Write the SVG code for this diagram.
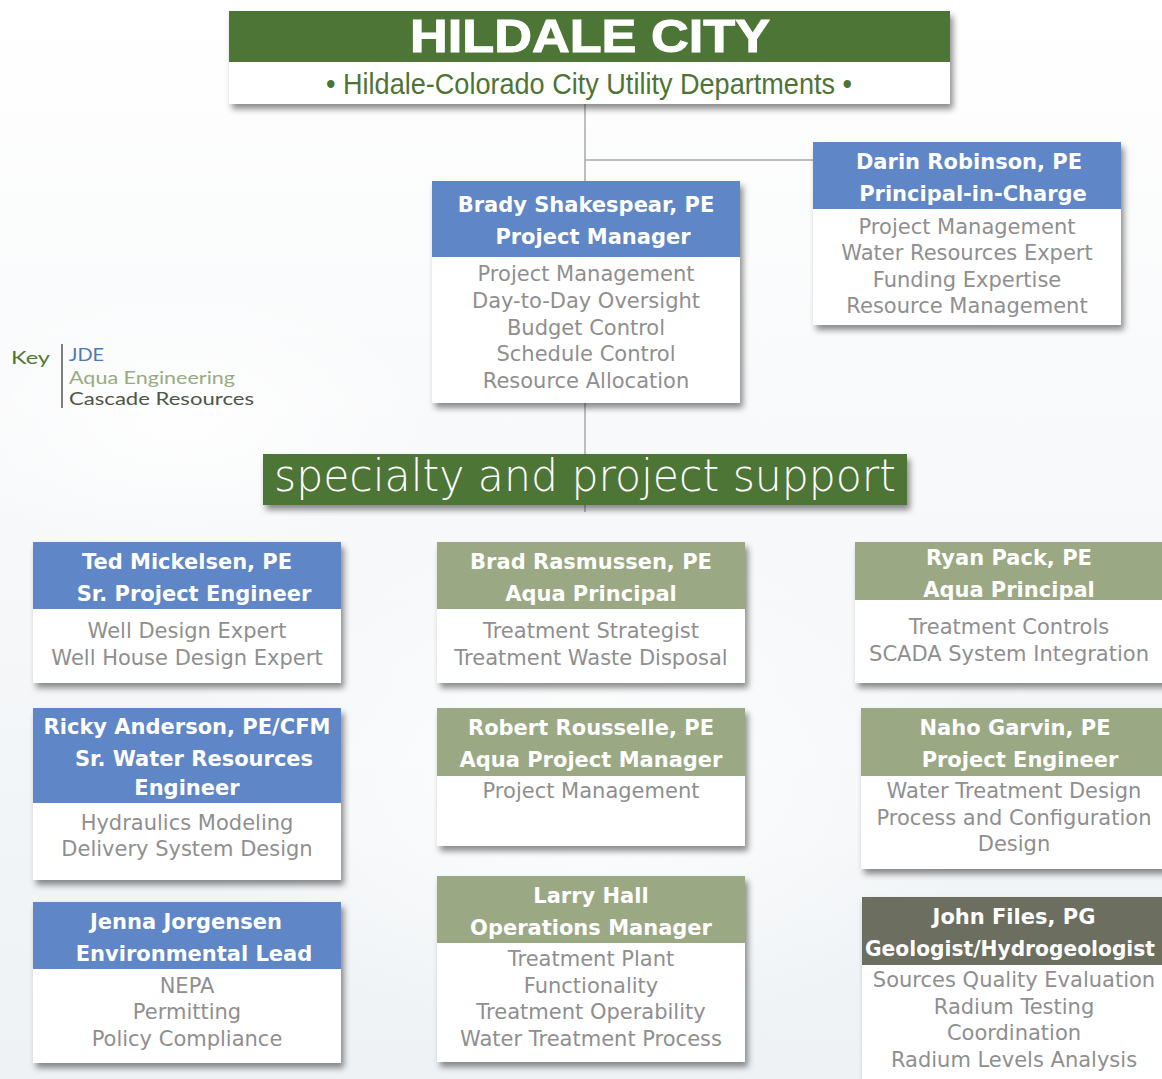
<svg xmlns="http://www.w3.org/2000/svg" width="1162" height="1079" viewBox="0 0 1162 1079">
  <defs>
    <linearGradient id="bg" x1="0" y1="0" x2="0" y2="1">
      <stop offset="0" stop-color="#ffffff"/>
      <stop offset="0.35" stop-color="#f9fafb"/>
      <stop offset="1" stop-color="#eef2f5"/>
    </linearGradient>
    <radialGradient id="glow" cx="0.5" cy="0.5" r="0.5">
      <stop offset="0" stop-color="#ffffff" stop-opacity="0.9"/>
      <stop offset="1" stop-color="#ffffff" stop-opacity="0"/>
    </radialGradient>
    <filter id="shadow" x="-10%" y="-10%" width="125%" height="130%">
      <feDropShadow dx="3" dy="5" stdDeviation="3" flood-color="#000" flood-opacity="0.45"/>
    </filter>
    <style>
      .box { fill: #ffffff; }
      .jde { fill: #5f86c6; }
      .aqua { fill: #9aa884; }
      .casc { fill: #6c6e5f; }
      .band { fill: #4e7434; }
      .hd { font-family: "DejaVu Sans", "Liberation Sans", sans-serif; font-weight: bold; font-size: 21px; fill: #ffffff; text-anchor: middle; }
      .bd { font-family: "DejaVu Sans", "Liberation Sans", sans-serif; font-size: 21px; fill: #8f8f8f; text-anchor: middle; }
      .link { stroke: #a9a9a9; stroke-width: 1.5; fill: none; }
      .key { font-family: "Lato", "Open Sans", sans-serif; font-size: 17.5px; }
    </style>
  </defs>

  <!-- page background -->
  <rect width="1162" height="1079" fill="url(#bg)"/>
  <ellipse cx="585" cy="780" rx="420" ry="260" fill="url(#glow)"/>
  <ellipse cx="180" cy="420" rx="260" ry="140" fill="url(#glow)"/>

  <!-- connectors -->
  <g id="connectors">
    <line class="link" x1="585" y1="104" x2="585" y2="512"/>
    <line class="link" x1="585" y1="160" x2="813" y2="160"/>
  </g>

  <!-- title block -->
  <g id="hildale-city" filter="url(#shadow)">
    <rect class="box" x="229" y="11" width="721" height="93"/>
    <rect class="band" x="229" y="11" width="721" height="51"/>
  </g>
  <g id="hildale-city-text">
    <text x="590" y="52" font-family="Liberation Sans, Arial, sans-serif" font-weight="bold" font-size="46" fill="#ffffff" stroke="#ffffff" stroke-width="1" text-anchor="middle" textLength="360" lengthAdjust="spacingAndGlyphs">HILDALE CITY</text>
    <text x="589" y="94" font-family="Liberation Sans, Arial, sans-serif" font-size="29" fill="#4e7434" text-anchor="middle" textLength="526" lengthAdjust="spacingAndGlyphs">• Hildale-Colorado City Utility Departments •</text>
  </g>

  <!-- key -->
  <g id="key">
    <text class="key" x="11" y="364" fill="#4e7a35" font-size="22" textLength="39" lengthAdjust="spacingAndGlyphs">Key</text>
    <line x1="62" y1="344" x2="62" y2="408" stroke="#555" stroke-width="1.5"/>
    <text class="key" x="69" y="361" fill="#4a7ab5" textLength="35" lengthAdjust="spacingAndGlyphs">JDE</text>
    <text class="key" x="69" y="384" fill="#9aaa80" textLength="166" lengthAdjust="spacingAndGlyphs">Aqua Engineering</text>
    <text class="key" x="69" y="405" fill="#4f5547" textLength="185" lengthAdjust="spacingAndGlyphs">Cascade Resources</text>
  </g>

  <!-- Darin Robinson -->
  <g id="darin-robinson">
    <g filter="url(#shadow)"><rect class="box" x="813" y="142" width="308" height="183"/></g>
    <rect class="jde" x="813" y="142" width="308" height="67"/>
    <text class="hd" x="969" y="169">Darin Robinson, PE</text>
    <text class="hd" x="973" y="201">Principal-in-Charge</text>
    <text class="bd" x="967" y="234">Project Management</text>
    <text class="bd" x="967" y="260">Water Resources Expert</text>
    <text class="bd" x="967" y="287">Funding Expertise</text>
    <text class="bd" x="967" y="313">Resource Management</text>
  </g>

  <!-- Brady Shakespear -->
  <g id="brady-shakespear">
    <g filter="url(#shadow)"><rect class="box" x="432" y="181" width="308" height="222"/></g>
    <rect class="jde" x="432" y="181" width="308" height="76"/>
    <text class="hd" x="586" y="212">Brady Shakespear, PE</text>
    <text class="hd" x="593" y="244">Project Manager</text>
    <text class="bd" x="586" y="281">Project Management</text>
    <text class="bd" x="586" y="308">Day-to-Day Oversight</text>
    <text class="bd" x="586" y="335">Budget Control</text>
    <text class="bd" x="586" y="361">Schedule Control</text>
    <text class="bd" x="586" y="388">Resource Allocation</text>
  </g>

  <!-- section band -->
  <g id="specialty-support">
    <g filter="url(#shadow)"><rect class="band" x="263" y="454" width="644" height="51"/></g>
    <text x="585" y="491" font-family="DejaVu Sans, sans-serif" font-weight="200" font-size="44" fill="#ffffff" text-anchor="middle" textLength="622" lengthAdjust="spacingAndGlyphs">specialty and project support</text>
  </g>

  <!-- Ted Mickelsen -->
  <g id="ted-mickelsen">
    <g filter="url(#shadow)"><rect class="box" x="33" y="542" width="308" height="141"/></g>
    <rect class="jde" x="33" y="542" width="308" height="67"/>
    <text class="hd" x="187" y="569">Ted Mickelsen, PE</text>
    <text class="hd" x="194" y="601">Sr. Project Engineer</text>
    <text class="bd" x="187" y="638">Well Design Expert</text>
    <text class="bd" x="187" y="665">Well House Design Expert</text>
  </g>

  <!-- Brad Rasmussen -->
  <g id="brad-rasmussen">
    <g filter="url(#shadow)"><rect class="box" x="437" y="542" width="308" height="141"/></g>
    <rect class="aqua" x="437" y="542" width="308" height="67"/>
    <text class="hd" x="591" y="569">Brad Rasmussen, PE</text>
    <text class="hd" x="591" y="601">Aqua Principal</text>
    <text class="bd" x="591" y="638">Treatment Strategist</text>
    <text class="bd" x="591" y="665">Treatment Waste Disposal</text>
  </g>

  <!-- Ryan Pack -->
  <g id="ryan-pack">
    <g filter="url(#shadow)"><rect class="box" x="855" y="542" width="320" height="141"/></g>
    <rect class="aqua" x="855" y="542" width="320" height="58"/>
    <text class="hd" x="1009" y="565">Ryan Pack, PE</text>
    <text class="hd" x="1009" y="597">Aqua Principal</text>
    <text class="bd" x="1009" y="634">Treatment Controls</text>
    <text class="bd" x="1009" y="661">SCADA System Integration</text>
  </g>

  <!-- Ricky Anderson -->
  <g id="ricky-anderson">
    <g filter="url(#shadow)"><rect class="box" x="33" y="708" width="308" height="172"/></g>
    <rect class="jde" x="33" y="708" width="308" height="95"/>
    <text class="hd" x="187" y="734">Ricky Anderson, PE/CFM</text>
    <text class="hd" x="194" y="766">Sr. Water Resources</text>
    <text class="hd" x="187" y="795">Engineer</text>
    <text class="bd" x="187" y="830">Hydraulics Modeling</text>
    <text class="bd" x="187" y="856">Delivery System Design</text>
  </g>

  <!-- Robert Rousselle -->
  <g id="robert-rousselle">
    <g filter="url(#shadow)"><rect class="box" x="437" y="708" width="308" height="138"/></g>
    <rect class="aqua" x="437" y="708" width="308" height="68"/>
    <text class="hd" x="591" y="735">Robert Rousselle, PE</text>
    <text class="hd" x="591" y="767">Aqua Project Manager</text>
    <text class="bd" x="591" y="798">Project Management</text>
  </g>

  <!-- Naho Garvin -->
  <g id="naho-garvin">
    <g filter="url(#shadow)"><rect class="box" x="861" y="708" width="314" height="161"/></g>
    <rect class="aqua" x="861" y="708" width="314" height="68"/>
    <text class="hd" x="1015" y="735">Naho Garvin, PE</text>
    <text class="hd" x="1020" y="767">Project Engineer</text>
    <text class="bd" x="1014" y="798">Water Treatment Design</text>
    <text class="bd" x="1014" y="825">Process and Configuration</text>
    <text class="bd" x="1014" y="851">Design</text>
  </g>

  <!-- Jenna Jorgensen -->
  <g id="jenna-jorgensen">
    <g filter="url(#shadow)"><rect class="box" x="33" y="902" width="308" height="161"/></g>
    <rect class="jde" x="33" y="902" width="308" height="67"/>
    <text class="hd" x="186" y="929">Jenna Jorgensen</text>
    <text class="hd" x="194" y="961">Environmental Lead</text>
    <text class="bd" x="187" y="993">NEPA</text>
    <text class="bd" x="187" y="1019">Permitting</text>
    <text class="bd" x="187" y="1046">Policy Compliance</text>
  </g>

  <!-- Larry Hall -->
  <g id="larry-hall">
    <g filter="url(#shadow)"><rect class="box" x="437" y="876" width="308" height="186"/></g>
    <rect class="aqua" x="437" y="876" width="308" height="67"/>
    <text class="hd" x="591" y="903">Larry Hall</text>
    <text class="hd" x="591" y="935">Operations Manager</text>
    <text class="bd" x="591" y="966">Treatment Plant</text>
    <text class="bd" x="591" y="993">Functionality</text>
    <text class="bd" x="591" y="1019">Treatment Operability</text>
    <text class="bd" x="591" y="1046">Water Treatment Process</text>
  </g>

  <!-- John Files -->
  <g id="john-files">
    <g filter="url(#shadow)"><rect class="box" x="862" y="897" width="314" height="200"/></g>
    <rect class="casc" x="862" y="897" width="314" height="68"/>
    <text class="hd" x="1014" y="924">John Files, PG</text>
    <text class="hd" x="1010" y="956" textLength="290" lengthAdjust="spacingAndGlyphs">Geologist/Hydrogeologist</text>
    <text class="bd" x="1014" y="987">Sources Quality Evaluation</text>
    <text class="bd" x="1014" y="1014">Radium Testing</text>
    <text class="bd" x="1014" y="1040">Coordination</text>
    <text class="bd" x="1014" y="1067">Radium Levels Analysis</text>
  </g>
</svg>
